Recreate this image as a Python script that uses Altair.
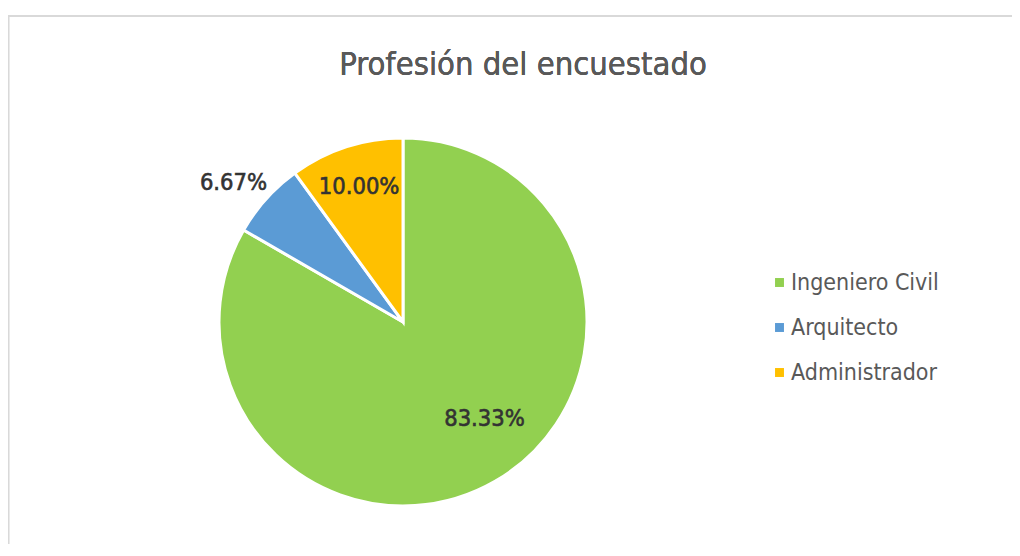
import altair as alt
import pandas as pd

categorias = ["Ingeniero Civil", "Arquitecto", "Administrador"]
porcentajes = [83.33, 6.67, 10.00]
etiquetas = ["83.33%", "6.67%", "10.00%"]
orden = [1, 2, 3]
colores = ["#92D050", "#5B9BD5", "#FFC000"]
titulo = "Profesión del encuestado"

df = pd.DataFrame({"cat": categorias, "pct": porcentajes, "lab": etiquetas, "ord": orden})

FONT = "DejaVu Sans Condensed, Liberation Sans Narrow, sans-serif"
CX, CY = 395, 224

base = alt.Chart(df).encode(
    theta=alt.Theta("pct:Q", stack=True),
    order=alt.Order("ord:Q"),
    x=alt.value(CX),
    y=alt.value(CY),
)

pie = base.mark_arc(outerRadius=184, stroke="white", strokeWidth=3).encode(
    color=alt.Color(
        "cat:N",
        scale=alt.Scale(domain=categorias, range=colores),
        sort=categorias,
        legend=alt.Legend(
            title=None,
            orient="none",
            legendX=760,
            legendY=173,
            symbolType="square",
            symbolSize=80,
            symbolStrokeWidth=0,
            labelFontSize=23,
            labelFont=FONT,
            labelColor="#595959",
            rowPadding=21,
            labelOffset=0,
        ),
    )
)

def label(cat, radius, dx=0, dy=0):
    return base.mark_text(
        radius=radius, dx=dx, dy=dy, font=FONT, fontSize=23.5, color="#333333",
        stroke="#333333", strokeWidth=0.6
    ).encode(
        text=alt.condition(f"datum.cat == '{cat}'", alt.Text("lab:N"), alt.value(""))
    )

t1 = label("Ingeniero Civil", 127, dx=18, dy=-13)
t2 = label("Arquitecto", 220, dx=-6, dy=8)
t3 = label("Administrador", 142)

title_text = alt.Chart(df).mark_text(
    font=FONT, fontSize=32.5, color="#595959", baseline="alphabetic", align="center"
).encode(
    x=alt.value(515), y=alt.value(-23), text=alt.value(titulo)
)

top_border = alt.Chart(df).mark_rule(color="#d9d9d9", strokeWidth=1.5).encode(
    x=alt.value(-4), x2=alt.value(1004), y=alt.value(-82)
)
left_border = alt.Chart(df).mark_rule(color="#d9d9d9", strokeWidth=1.5).encode(
    x=alt.value(0.5), y=alt.value(-82), y2=alt.value(446)
)

chart = alt.layer(top_border, left_border, pie, t1, t2, t3, title_text).properties(
    width=1004,
    height=446,
    padding={"left": 0, "top": 90, "right": 0, "bottom": 0},
    autosize=alt.AutoSizeParams(type="none"),
).configure(background="white").configure_view(stroke=None)

chart.save("out.html", embed_options={"renderer": "svg", "actions": False})
